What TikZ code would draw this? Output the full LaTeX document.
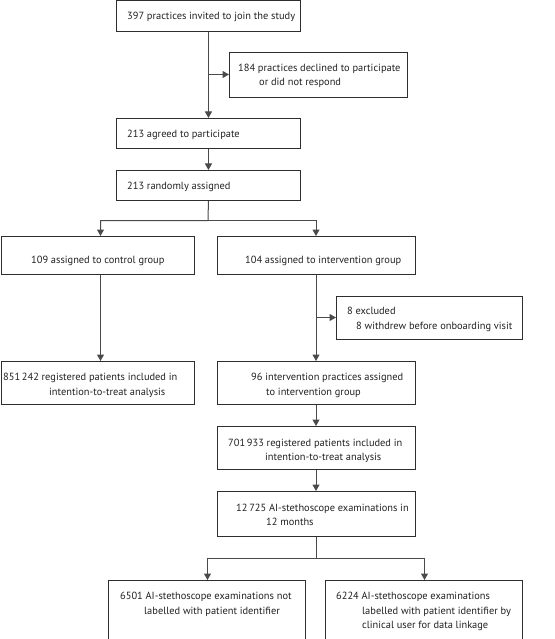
\documentclass[tikz,border=0pt]{standalone}
\usepackage{fontspec}
\setmainfont{PT Sans}
\usetikzlibrary{arrows.meta}
\definecolor{boxc}{HTML}{2E2E2E}
\definecolor{linec}{HTML}{4A4A4A}
\definecolor{txtc}{HTML}{231F20}
\tikzset{
  box/.style={draw=boxc, line width=0.9pt, rectangle, inner sep=0pt, anchor=north west},
  txt/.style={anchor=base west, inner sep=0pt, text=txtc, font=\fontsize{10.4}{12}\selectfont},
  conn/.style={draw=linec, line width=1pt},
  arr/.style={conn, -{Triangle[length=6.5pt,width=7pt]}},
}
\newcommand{\mkbox}[5]{\node[box, minimum width=#4pt-#2pt, minimum height=#5pt-#3pt] (#1) at (#2,#3) {};}
\begin{document}
\begin{tikzpicture}[x=1pt,y=-1pt]
\useasboundingbox (0,0) rectangle (554,639);
% boxes
\mkbox{b1}{116}{0.5}{300}{31}
\mkbox{b2}{229}{52}{407}{97}
\mkbox{b3}{116}{118}{300}{148}
\mkbox{b4}{116}{170}{300}{200}
\mkbox{b5}{0.5}{236}{194}{274}
\mkbox{b6}{217}{236}{415}{274}
\mkbox{b7}{336}{296}{522}{339}
\mkbox{b8}{0.5}{361}{194}{404}
\mkbox{b9}{217}{361}{415}{404}
\mkbox{b10}{217}{426}{415}{469}
\mkbox{b11}{217}{491}{415}{536}
\mkbox{b12}{108}{580}{305}{638.5}
\mkbox{b13}{325}{580}{522}{638.5}
% texts
\node[txt] (t1) at (127,19.5) {397 practices invited to join the study};
\node[txt] (t2a) at (238,71.5) {184 practices declined to participate};
\node[txt] (t2b) at (259,85.5) {or did not respond};
\node[txt] (t3) at (127,137.5) {213 agreed to participate};
\node[txt] (t4) at (127,189.5) {213 randomly assigned};
\node[txt] (t5) at (31,263.5) {109 assigned to control group};
\node[txt] (t6) at (245,263.5) {104 assigned to intervention group};
\node[txt] (t7a) at (347,314.5) {8 excluded};
\node[txt] (t7b) at (356,329.5) {8 withdrew before onboarding visit};
\node[txt] (t8a) at (3,380.5) {851\,242 registered patients included in};
\node[txt] (t8b) at (49,395.5) {intention-to-treat analysis};
\node[txt] (t9a) at (251,380.5) {96 intervention practices assigned};
\node[txt] (t9b) at (266,395.5) {to intervention group};
\node[txt] (t10a) at (228,446.5) {701\,933 registered patients included in};
\node[txt] (t10b) at (265,460.5) {intention-to-treat analysis};
\node[txt] (t11a) at (236,511.5) {12\,725 AI-stethoscope examinations in};
\node[txt] (t11b) at (266,525.5) {12 months};
\node[txt] (t12a) at (120,599.5) {6501 AI-stethoscope examinations not};
\node[txt] (t12b) at (144,614.5) {labelled with patient identifier};
\node[txt] (t13a) at (336,599.5) {6224 AI-stethoscope examinations};
\node[txt] (t13b) at (362,614.5) {labelled with patient identifier by};
\node[txt] (t13c) at (362,628.5) {clinical user for data linkage};
% connectors
\coordinate (j1) at (208,74.5);
\draw[arr] (b1.south) -- (b3.north);
\draw[arr] (j1) -- (j1 -| b2.west);
\draw[arr] (b3.south) -- (b4.north);
\coordinate (s1) at (208,220.5);
\draw[arr] (b4.south) -- (s1) -| (b5.north -| 100.5,0);
\draw[arr] (s1) -| (b6.north -| 316,0);
\draw[arr] (b5.south -| 100.5,0) -- (b8.north -| 100.5,0);
\coordinate (j2) at (316,317.5);
\draw[arr] (b6.south -| 316,0) -- (b9.north -| 316,0);
\draw[arr] (j2) -- (j2 -| b7.west);
\draw[arr] (b9.south -| 316,0) -- (b10.north -| 316,0);
\draw[arr] (b10.south -| 316,0) -- (b11.north -| 316,0);
\coordinate (s2) at (316,558.5);
\draw[arr] (b11.south -| 316,0) -- (s2) -| (b12.north -| 207.5,0);
\draw[arr] (s2) -| (b13.north -| 424.5,0);
\end{tikzpicture}
\end{document}
